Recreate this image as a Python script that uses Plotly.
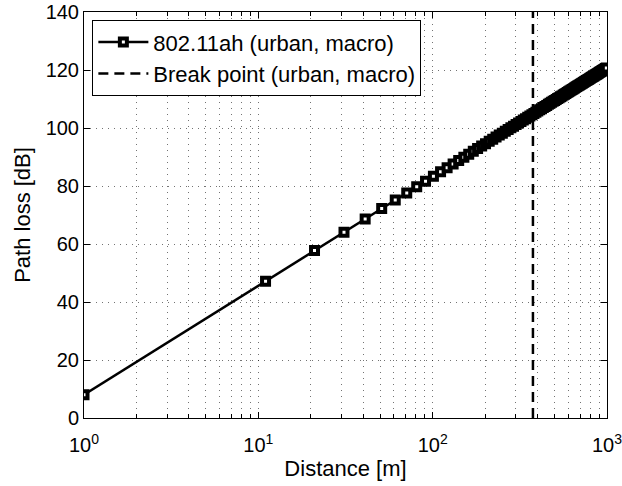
import plotly.graph_objects as go

distance_m = [1, 11, 21, 31, 41, 51, 61, 71, 81, 91,
              101, 111, 121, 131, 141, 151, 161, 171, 181, 191,
              201, 211, 221, 231, 241, 251, 261, 271, 281, 291,
              301, 311, 321, 331, 341, 351, 361, 371, 381, 391,
              401, 411, 421, 431, 441, 451, 461, 471, 481, 491,
              501, 511, 521, 531, 541, 551, 561, 571, 581, 591,
              601, 611, 621, 631, 641, 651, 661, 671, 681, 691,
              701, 711, 721, 731, 741, 751, 761, 771, 781, 791,
              801, 811, 821, 831, 841, 851, 861, 871, 881, 891,
              901, 911, 921, 931, 941, 951, 961, 971, 981, 991]
path_loss_db = [8.00, 47.16, 57.72, 64.08, 68.64, 72.20, 75.13, 77.61, 79.76, 81.66,
                83.36, 84.90, 86.31, 87.61, 88.81, 89.93, 90.98, 91.96, 92.89, 93.77,
                94.60, 95.39, 96.15, 96.87, 97.56, 98.23, 98.87, 99.48, 100.07, 100.64,
                101.19, 101.73, 102.24, 102.75, 103.23, 103.70, 104.16, 104.61, 105.04, 105.47,
                105.88, 106.28, 106.67, 107.06, 107.43, 107.80, 108.16, 108.51, 108.85, 109.19,
                109.51, 109.84, 110.15, 110.46, 110.77, 111.07, 111.36, 111.65, 111.93, 112.21,
                112.49, 112.76, 113.02, 113.28, 113.54, 113.79, 114.04, 114.29, 114.53, 114.76,
                115.00, 115.23, 115.46, 115.68, 115.91, 116.12, 116.34, 116.55, 116.76, 116.97,
                117.18, 117.38, 117.58, 117.78, 117.97, 118.17, 118.36, 118.54, 118.73, 118.92,
                119.10, 119.28, 119.46, 119.63, 119.81, 119.98, 120.15, 120.32, 120.49, 120.65]

break_point_x = [376, 376]
break_point_y = [0, 140]

x_tick_vals = [1, 10, 100, 1000]
x_tick_text = ["10<sup>0</sup>", "10<sup>1</sup>", "10<sup>2</sup>", "10<sup>3</sup>"]
x_minor_vals = [m * 10 ** e for e in range(3) for m in range(2, 10)]
y_tick_vals = [0, 20, 40, 60, 80, 100, 120, 140]

series_name = "802.11ah (urban, macro)"
break_name = "Break point (urban, macro)"

FONT = "Liberation Sans, Arial, Helvetica, sans-serif"
GRID_COLOR = "rgba(0,0,0,0.55)"
GRID_DASH = "1px,5px"

fig = go.Figure()
fig.add_trace(go.Scatter(
    x=distance_m, y=path_loss_db, name=series_name, mode="lines+markers",
    line=dict(color="black", width=2.5),
    marker=dict(symbol="square", size=7, color="white", line=dict(color="black", width=4)),
))
fig.add_trace(go.Scatter(
    x=break_point_x, y=break_point_y, name=break_name, mode="lines",
    line=dict(color="black", width=2.5, dash="10px,6px"),
))

grid = dict(showgrid=True, gridcolor=GRID_COLOR, griddash=GRID_DASH, gridwidth=1)

fig.update_layout(
    width=622, height=486,
    margin=dict(l=84, r=15, t=12, b=68, autoexpand=False),
    paper_bgcolor="white", plot_bgcolor="white",
    font=dict(family=FONT, size=20, color="black"),
    showlegend=True,
    legend=dict(x=0.016, y=0.98, xanchor="left", yanchor="top",
                bgcolor="white", bordercolor="black", borderwidth=1,
                itemwidth=50,
                font=dict(size=22), tracegroupgap=0),
    xaxis=dict(
        type="log", range=[0, 3], automargin=False,
        tickvals=x_tick_vals, ticktext=x_tick_text,
        ticks="inside", ticklen=6, tickcolor="black",
        ticklabelstandoff=9, ticklabeloverflow="allow",
        showline=True, linecolor="black", linewidth=1, mirror="ticks",
        zeroline=False,
        title=dict(text="Distance [m]", font=dict(size=22), standoff=5),
        minor=dict(tickvals=x_minor_vals, ticks="inside", ticklen=4, tickcolor="black",
                   showgrid=True, gridcolor=GRID_COLOR, griddash=GRID_DASH, gridwidth=1),
        **grid,
    ),
    yaxis=dict(
        range=[0, 140], tickvals=y_tick_vals, automargin=False,
        ticks="inside", ticklen=6, tickcolor="black",
        ticklabeloverflow="allow",
        showline=True, linecolor="black", linewidth=1, mirror="ticks",
        zeroline=False,
        title=dict(text="Path loss [dB]", font=dict(size=22), standoff=8),
        **grid,
    ),
)

fig.write_html("out.html")
